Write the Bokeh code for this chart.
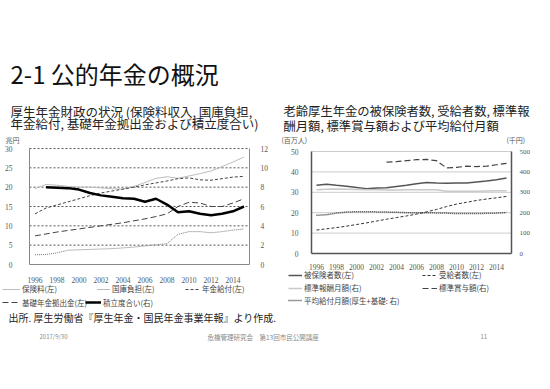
from bokeh.plotting import figure
from bokeh.models import Range1d, LinearAxis, FixedTicker, Legend, LegendItem, Label
from bokeh.layouts import column, row
from bokeh.embed import file_html
from bokeh.resources import INLINE

# ---------------- data ----------------
years = list(range(1996, 2016))
reserve_years = list(range(1997, 2016))
bonus_years = list(range(2003, 2016))

x_ticks = [1996, 1998, 2000, 2002, 2004, 2006, 2008, 2010, 2012, 2014]
x_tick_labels = ["1996", "1998", "2000", "2002", "2004", "2006", "2008", "2010", "2012", "2014"]

# left chart (兆円, left axis) / 積立度合い (right axis)
premium = [19.6, 20.7, 20.5, 20.2, 20.0, 20.0, 19.8, 19.6, 19.5, 20.2,
           21.2, 22.3, 22.7, 22.3, 22.9, 23.5, 24.2, 25.3, 26.5, 27.8]
state_subsidy = [2.5, 2.6, 3.0, 3.7, 3.8, 3.9, 4.0, 4.1, 4.3, 4.5,
                 4.8, 5.1, 5.4, 7.8, 8.5, 8.5, 8.2, 8.5, 8.9, 9.2]
benefits = [13.1, 14.6, 15.4, 16.2, 17.0, 17.8, 18.5, 19.0, 19.5, 20.0,
            20.6, 21.1, 21.6, 22.2, 22.4, 21.9, 21.8, 22.2, 22.6, 22.8]
basic_contrib = [7.4, 7.9, 8.4, 8.8, 9.2, 9.6, 10.0, 10.4, 10.8, 11.3,
                 11.8, 12.4, 13.1, 15.0, 16.1, 15.9, 15.0, 15.0, 15.9, 17.0]
reserve_ratio = [8.0, 7.95, 7.9, 7.75, 7.4, 7.15, 7.0, 6.85, 6.8,
                 6.5, 6.8, 6.2, 5.4, 5.5, 5.25, 5.1, 5.25, 5.5, 6.0]

left_y_ticks = [0, 5, 10, 15, 20, 25, 30]
left_y2_ticks = [0, 2, 4, 6, 8, 10, 12]

# right chart (百万人, left axis) / (千円, right axis)
insured = [33.4, 33.9, 33.4, 33.0, 32.4, 31.8, 32.1, 32.2, 32.9, 33.4,
           34.2, 34.8, 34.5, 34.4, 34.5, 34.5, 35.0, 35.5, 36.2, 37.0]
recipients = [11.5, 12.1, 12.7, 13.4, 14.2, 15.0, 15.9, 16.8, 17.6, 18.4,
              19.3, 20.4, 21.6, 23.0, 24.2, 25.1, 26.0, 26.7, 27.3, 28.0]
std_monthly = [313, 315, 316, 315, 314, 313, 312, 311, 311, 312,
               313, 313, 312, 305, 305, 305, 305, 306, 307, 308]
std_bonus = [448, 450, 455, 460, 461, 455, 420, 422, 428, 426, 428, 435, 442]
avg_benefit = [187, 190, 198, 203, 205, 205, 204, 203, 202, 200,
               200, 200, 199, 198, 196, 196, 196, 197, 198, 201]

right_y_ticks = [0, 10, 20, 30, 40, 50]
right_y2_ticks = [0, 100, 200, 300, 400, 500]

JP = "Noto Sans CJK JP"
SERIF = "Liberation Serif"
X0, X1 = 1995.5, 2015.5  # category band edges

# line styles
S_PREMIUM = dict(line_color="#bdbdbd", line_width=1)
S_SUBSIDY = dict(line_color="#777777", line_width=1, line_dash="1 1")
S_BENEFIT = dict(line_color="#444444", line_width=1, line_dash="3 2")
S_BASIC = dict(line_color="#444444", line_width=1, line_dash="6 3")
S_RESERVE = dict(line_color="black", line_width=2.5)
S_INSURED = dict(line_color="#555555", line_width=1.5)
S_RECIP = dict(line_color="#333333", line_width=1, line_dash="3 2")
S_STDM = dict(line_color="#c8c8c8", line_width=1.5)
S_BONUS = dict(line_color="#444444", line_width=1.2, line_dash="6 3")
S_AVG = dict(line_color="#333333", line_width=1.5, line_dash="1 1")


def chart_fig(w, h, fl, fr, ft, fb, y_max, y2_max):
    """Full-canvas figure whose ranges put the plot box at (fl..fr, ft..fb) px."""
    kx = (fr - fl) / (X1 - X0)
    ky = (fb - ft) / y_max
    ky2 = (fb - ft) / y2_max
    p = figure(width=w, height=h,
               x_range=Range1d(X0 - fl / kx, X1 + (w - fr) / kx),
               y_range=Range1d(-(h - fb) / ky, y_max + ft / ky),
               output_backend="svg", toolbar_location=None,
               x_axis_location=None, y_axis_location=None,
               min_border_left=0, min_border_right=0, min_border_top=0, min_border_bottom=0)
    p.extra_y_ranges = {"right": Range1d(-(h - fb) / ky2, y2_max + ft / ky2)}
    p.outline_line_color = None
    p.xgrid.grid_line_color = None
    p.ygrid.grid_line_color = None
    return p


def blank_fig(w, h):
    p = figure(width=w, height=h, x_range=Range1d(0, w), y_range=Range1d(0, h),
               output_backend="svg", toolbar_location=None,
               x_axis_location=None, y_axis_location=None,
               min_border_left=0, min_border_right=0, min_border_top=0, min_border_bottom=0)
    p.outline_line_color = None
    p.xgrid.grid_line_color = None
    p.ygrid.grid_line_color = None
    return p


def put_text(p, x, y_from_top, text, size, color="#222222"):
    p.add_layout(Label(x=x, y=p.height - y_from_top, x_units="screen", y_units="screen",
                       text=text, text_font=JP, text_font_size=size, text_color=color,
                       text_baseline="middle", text_align="left"))


def style_axis(ax, color, width, standoff, ticks, overrides=None, size="7.5px"):
    ax.ticker = FixedTicker(ticks=ticks)
    ax.axis_line_color = color
    ax.axis_line_width = width
    ax.major_tick_line_color = None
    ax.minor_tick_line_color = None
    ax.major_label_standoff = standoff
    ax.major_label_text_font = SERIF
    ax.major_label_text_font_size = size
    ax.major_label_text_color = "#555555"
    if overrides:
        ax.major_label_overrides = overrides


def add_axes(p, y_ticks, y2_ticks, color, width, so_x, so_y, so_y2, size2="7.5px"):
    xa = LinearAxis(fixed_location=0, bounds=(X0, X1))
    style_axis(xa, color, width, so_x, x_ticks, {t: l for t, l in zip(x_ticks, x_tick_labels)})
    p.add_layout(xa, "below")
    ya = LinearAxis(fixed_location=X0, bounds=(y_ticks[0], y_ticks[-1]))
    style_axis(ya, color, width, so_y, y_ticks)
    p.add_layout(ya, "left")
    ya2 = LinearAxis(y_range_name="right", fixed_location=X1, bounds=(y2_ticks[0], y2_ticks[-1]))
    style_axis(ya2, color, width, so_y2, y2_ticks, size=size2)
    p.add_layout(ya2, "right")


def add_grid(p, ticks, **kw):
    g = ticks[1:]
    p.segment(x0=[X0] * len(g), x1=[X1] * len(g), y0=g, y1=g, **kw)


def add_legend(p, x, y_center_from_top, label, xs, ys, style, gw):
    # hidden copy of the series: only its legend key is shown in this panel
    r = p.line(x=xs, y=ys, visible=False, **style)
    lg = Legend(items=[LegendItem(label=label, renderers=[r])],
                location=(x, p.height - y_center_from_top - 5), orientation="horizontal",
                padding=0, margin=0, spacing=0, glyph_width=gw, glyph_height=10,
                label_height=10, label_width=10, label_standoff=2, label_text_font=JP,
                label_text_font_size="7.5px", label_text_color="#444444",
                inactive_fill_alpha=0, background_fill_alpha=0, border_line_alpha=0)
    p.add_layout(lg)


# ---------------- left chart ----------------
pL = chart_fig(270, 284, 29, 249, 148, 264, 30, 12)
add_grid(pL, left_y_ticks, line_color="#555555", line_width=1, line_dash="2 2")
add_axes(pL, left_y_ticks, left_y2_ticks, "#888888", 1, 6, 11, 5)

pL.line(years, premium, **S_PREMIUM)
pL.line(years, state_subsidy, **S_SUBSIDY)
pL.line(years, benefits, **S_BENEFIT)
pL.line(years, basic_contrib, **S_BASIC)
pL.line(reserve_years, reserve_ratio, y_range_name="right", **S_RESERVE)

put_text(pL, 10, 73, "2-1 公的年金の概況", "24px", "#111111")
put_text(pL, 10, 110.5, "厚生年金財政の状況 (保険料収入, 国庫負担,", "12.5px")
put_text(pL, 10, 122.8, "年金給付, 基礎年金拠出金および積立度合い)", "12.5px")
put_text(pL, 5, 139.5, "兆円", "7px", "#555555")

legL = blank_fig(270, 25)
add_legend(legL, 2, 5, "保険料(左)", years, premium, S_PREMIUM, 18)
add_legend(legL, 97, 5, "国庫負担(左)", years, state_subsidy, S_SUBSIDY, 13)
add_legend(legL, 185, 5, "年金給付(左)", years, benefits, S_BENEFIT, 15)
add_legend(legL, 2, 18.5, "基礎年金拠出金(左)", years, basic_contrib, S_BASIC, 18)
add_legend(legL, 85, 18.5, "積立度合い(右)", reserve_years, reserve_ratio, S_RESERVE, 16)

# ---------------- right chart ----------------
pR = chart_fig(264, 270, 41, 241, 151, 253, 50, 500)
add_grid(pR, right_y_ticks, line_color="#cccccc", line_width=1)
add_axes(pR, right_y_ticks, right_y2_ticks, "#555555", 1.5, 4, 7, 2, size2="7px")

pR.line(years, insured, **S_INSURED)
pR.line(years, recipients, **S_RECIP)
pR.line(years, std_monthly, y_range_name="right", **S_STDM)
pR.line(bonus_years, std_bonus, y_range_name="right", **S_BONUS)
pR.line(years, avg_benefit, y_range_name="right", **S_AVG)

put_text(pR, 13, 110, "老齢厚生年金の被保険者数, 受給者数, 標準報", "12.3px")
put_text(pR, 13, 125, "酬月額, 標準賞与額および平均給付月額", "12.3px")
put_text(pR, 11, 139.5, "(百万人)", "7px", "#555555")
put_text(pR, 236, 139.5, "(千円)", "7px", "#555555")

legR = blank_fig(264, 39)
add_legend(legR, 18, 5, "被保険者数(左)", years, insured, S_INSURED, 14)
add_legend(legR, 152, 5, "受給者数(左)", years, recipients, S_RECIP, 15)
add_legend(legR, 18, 18.3, "標準報酬月額(右)", years, std_monthly, S_STDM, 14)
add_legend(legR, 152, 18.3, "標準賞与額(右)", bonus_years, std_bonus, S_BONUS, 15)
add_legend(legR, 18, 30.5, "平均給付月額(厚生+基礎: 右)", years, avg_benefit, S_AVG, 14)

# ---------------- footer ----------------
ftr = blank_fig(534, 60)
put_text(ftr, 8, 8, "出所. 厚生労働省『厚生年金・国民年金事業年報』より作成.", "10px", "#222222")
put_text(ftr, 39, 27, "2017/9/30", "6px", "#888888")
put_text(ftr, 207, 27, "危機管理研究会　第13回市民公開講座", "6.5px", "#888888")
put_text(ftr, 480, 27, "11", "6px", "#888888")

layout = column(row(column(pL, legL), column(pR, legR)), ftr)
open("out.html", "w").write(file_html(layout, INLINE))
